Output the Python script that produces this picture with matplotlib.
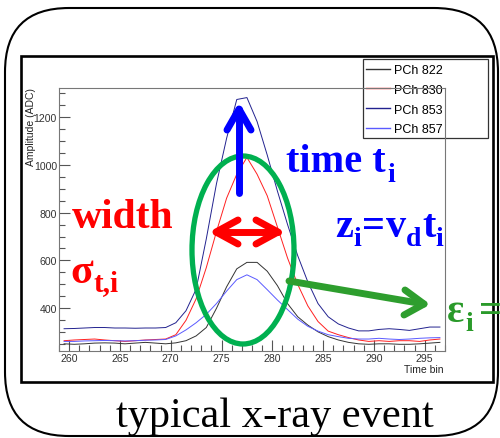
import matplotlib
matplotlib.use("Agg")
import matplotlib.pyplot as plt
from matplotlib.lines import Line2D
from matplotlib.patches import Ellipse, FancyBboxPatch, Rectangle
from matplotlib.ticker import MultipleLocator
from matplotlib.transforms import Affine2D

plt.rcParams["font.family"] = ["Liberation Sans", "DejaVu Sans"]

# time bin centres and pulse amplitudes (ADC) per pad channel
time_bins = [259.5 + i for i in range(38)]
pch_822 = [252, 250, 252, 255, 256, 255, 252, 255, 258, 255, 252, 256, 265, 285,
           320, 400, 490, 565, 592, 592, 555, 495, 420, 365, 330, 302, 282, 268,
           258, 252, 250, 252, 252, 250, 250, 252, 255, 258]
pch_830 = [265, 268, 270, 272, 268, 265, 262, 265, 268, 270, 272, 290, 350, 440,
           570, 720, 860, 960, 1030, 960, 870, 740, 610, 500, 410, 345, 305, 290,
           278, 268, 262, 265, 262, 265, 265, 262, 268, 272]
pch_853 = [315, 316, 318, 320, 320, 318, 318, 317, 318, 318, 320, 340, 390, 480,
           690, 920, 1110, 1272, 1280, 1180, 1040, 890, 750, 620, 510, 420, 365, 335,
           318, 306, 306, 312, 315, 312, 308, 315, 322, 322]
pch_857 = [262, 262, 264, 265, 266, 265, 264, 265, 267, 268, 270, 285, 310, 340,
           375, 420, 472, 520, 540, 520, 478, 435, 395, 355, 325, 305, 290, 282,
           275, 272, 272, 275, 272, 270, 272, 275, 277, 278]

series = [("PCh 822", pch_822, "#333333"),
          ("PCh 830", pch_830, "#ff2020"),
          ("PCh 853", pch_853, "#22228f"),
          ("PCh 857", pch_857, "#5a5aff")]

W, H = 500, 439
fig = plt.figure(figsize=(W / 100, H / 100), dpi=100)
# pixel coordinates measured from the top-left corner
px = Affine2D().scale(1 / W, -1 / H).translate(0, 1) + fig.transFigure
renderer = fig.canvas.get_renderer()

ax = fig.add_axes([59 / W, 1 - 352 / H, 386 / W, 263 / H])
for label, vals, color in series:
    ax.plot(time_bins, vals, color=color, lw=0.7, label=label)

ax.set_xlim(259, 297)
ax.set_ylim(222, 1320)
ax.set_xticks(range(260, 296, 5))
ax.set_yticks(range(400, 1201, 200))
ax.xaxis.set_minor_locator(MultipleLocator(1))
ax.yaxis.set_minor_locator(MultipleLocator(50))
ax.tick_params(which="both", direction="in", top=False, right=False,
               color="#555555", width=0.8, labelsize=7.6, labelcolor="#333333", pad=1.5)
ax.tick_params(which="major", length=8)
ax.tick_params(which="minor", length=4.3)
for sp in ax.spines.values():
    sp.set_color("#777777")
    sp.set_linewidth(0.8)

fig.text(31, 88, "Amplitude (ADC)", transform=px, rotation=90, ha="center", va="top",
         fontsize=7.5, color="#222222")
fig.text(444, 365, "Time bin", transform=px, ha="right", va="top", fontsize=7.5, color="#222222")

# legend box sits under the axes frame, as in the original canvas
box = Rectangle((363, 60), 125, 79, transform=px, facecolor="white", edgecolor="#333333",
                lw=0.9, clip_on=False, zorder=0.9)
ax.add_artist(box)
leg = ax.legend(loc="upper left", bbox_to_anchor=(366, 65), bbox_transform=px, frameon=False,
                fontsize=9, handlelength=1.9, handletextpad=0.35, labelspacing=0.62,
                borderpad=0, borderaxespad=0)
leg.set_zorder(1)
for h in leg.legend_handles:
    h.set_linewidth(1.0)

# canvas frame and rounded slide box
fig.add_artist(Rectangle((21, 57), 472, 326, transform=px, fill=False, edgecolor="black", lw=1.9))
fig.add_artist(FancyBboxPatch((5, 9), 493, 428, boxstyle="round,pad=0,rounding_size=64",
                              transform=px, fill=False, edgecolor="black", lw=1.5))


def arrow(shaft, heads, color, lw):
    fig.add_artist(Line2D([shaft[0][0], shaft[1][0]], [shaft[0][1], shaft[1][1]], transform=px,
                          color=color, lw=lw, solid_capstyle="round", zorder=6))
    for a, tip, b in heads:
        fig.add_artist(Line2D([a[0], tip[0], b[0]], [a[1], tip[1], b[1]], transform=px,
                              color=color, lw=lw, solid_capstyle="round",
                              solid_joinstyle="round", zorder=6))


def rich(x, y, pieces, color):
    # pieces: (text, fontsize, drop below baseline in px, gap before in px)
    for s, size, dy, gap in pieces:
        x += gap
        t = fig.text(x, y + dy, s, transform=px, va="baseline", fontsize=size, color=color,
                     family="Liberation Serif", fontweight="bold", zorder=7)
        x += t.get_window_extent(renderer).width


fig.add_artist(Ellipse((243, 251), 102, 188, transform=px, fill=False, edgecolor="#00b050",
                       lw=3.8, zorder=5))
arrow([(239, 194), (239, 110)], [((227, 131), (239, 110), (251, 131))], "#0000ff", 5.0)
arrow([(216, 233), (278, 233)],
      [((238, 221), (216, 233), (238, 245)), ((256, 221), (278, 233), (256, 245))], "#ff0000", 5.0)
arrow([(289, 282), (424, 305)], [((405, 291), (424, 305), (404, 316))], "#2e9e2e", 5.0)

rich(286, 172, [("time t", 29, 0, 0), ("i", 20, 10, 2)], "#0000ff")
rich(72, 228, [("width", 30, 0, 0)], "#ff0000")
rich(70, 283, [("σ", 30, 0, 0), ("t,i", 21, 8, 1)], "#ff0000")
rich(335, 237, [("z", 29, 0, 0), ("i", 20, 9, 0), ("=", 29, 0, 1), ("v", 29, 0, 1),
                ("d", 20, 9, 0), ("t", 29, 0, 1), ("i", 20, 9, 0)], "#0000ff")
rich(447, 322, [("ε", 29, 0, 0), ("i", 20, 9, 1), ("=", 29, 0, 6)], "#2a9a2a")

fig.text(275, 427, "typical x-ray event", transform=px, ha="center", va="baseline",
         fontsize=30.5, family="Liberation Serif", color="black")

fig.savefig("out.png", dpi=100)
